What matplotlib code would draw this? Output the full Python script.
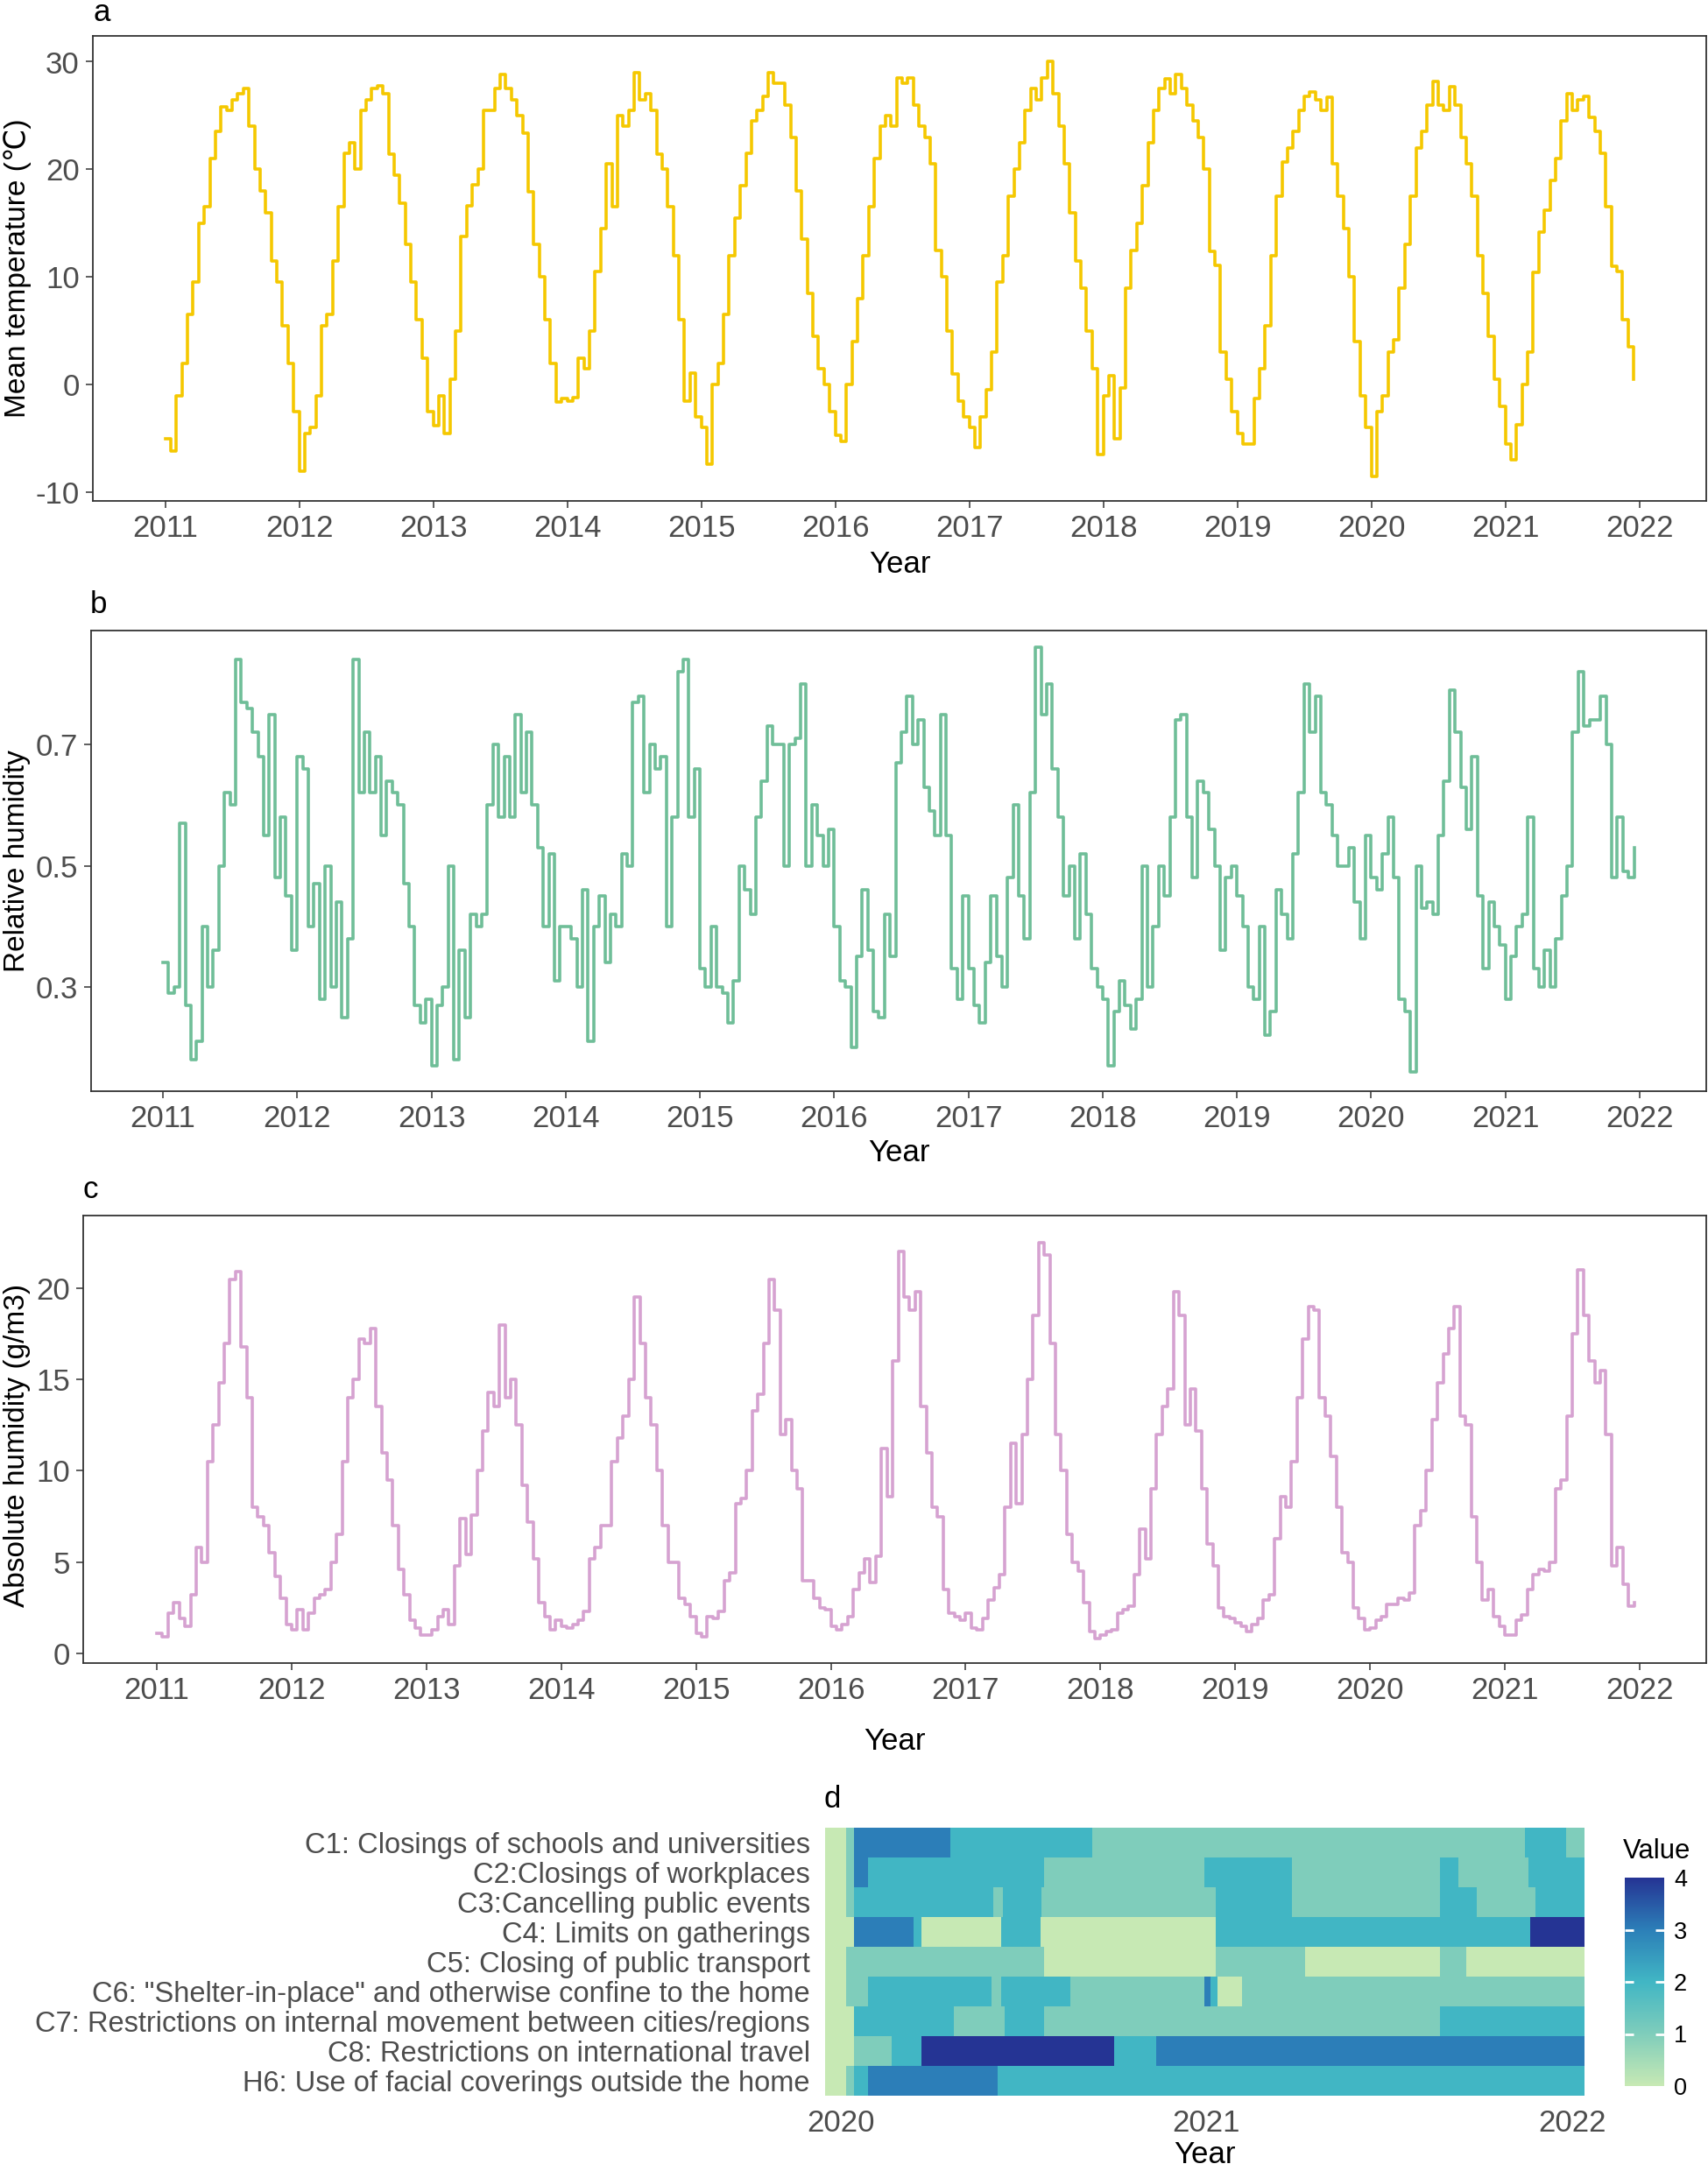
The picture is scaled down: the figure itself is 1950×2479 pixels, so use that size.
import numpy as np
import matplotlib
matplotlib.use("Agg")
import matplotlib.pyplot as plt
from matplotlib import font_manager
from matplotlib.cm import ScalarMappable
from matplotlib.colors import LinearSegmentedColormap, Normalize

# ---------------- data (semi-monthly readings, 2011-2021) ----------------
mean_temp = [
    -5.0, -6.2, -1.0, 2.0, 6.5, 9.5, 15.0, 16.5, 21.0, 23.5, 25.8, 25.5, 26.5, 27.0, 27.5, 24.0, 20.0, 18.0, 16.0, 11.5, 9.5, 5.5, 2.0, -2.5,
    -8.0, -4.5, -4.0, -1.0, 5.5, 6.5, 11.5, 16.5, 21.5, 22.5, 20.0, 25.5, 26.5, 27.5, 27.8, 27.0, 21.4, 19.5, 16.9, 13.0, 9.5, 6.0, 2.5, -2.5,
    -3.8, -1.0, -4.5, 0.5, 5.0, 13.8, 16.6, 18.6, 20.0, 25.5, 25.5, 27.5, 28.8, 27.5, 26.5, 25.0, 23.4, 17.9, 13.0, 10.0, 6.0, 2.0, -1.6, -1.3,
    -1.5, -1.2, 2.5, 1.5, 5.0, 10.5, 14.5, 20.5, 16.5, 25.0, 24.0, 25.5, 29.0, 26.5, 27.0, 25.5, 21.4, 20.0, 16.5, 12.0, 6.0, -1.5, 1.1, -3.0,
    -4.0, -7.4, 0.0, 2.0, 6.5, 12.0, 15.5, 18.5, 21.5, 24.5, 25.5, 26.8, 29.0, 28.0, 28.0, 26.0, 23.0, 18.0, 13.5, 8.5, 4.5, 1.5, 0.0, -2.5,
    -4.7, -5.3, 0.0, 4.0, 8.0, 12.0, 16.5, 21.0, 24.0, 25.0, 24.0, 28.5, 28.0, 28.5, 26.0, 24.0, 23.0, 20.5, 12.5, 10.0, 5.0, 1.0, -1.5, -3.0,
    -4.0, -5.8, -3.0, -0.5, 3.0, 9.5, 12.0, 17.5, 20.0, 22.5, 25.5, 27.5, 26.5, 28.5, 30.0, 27.0, 24.0, 20.5, 16.0, 11.5, 9.0, 5.0, 1.5, -6.5,
    -1.0, 0.8, -5.0, -0.3, 9.0, 12.5, 15.0, 18.5, 22.5, 25.5, 27.5, 28.4, 27.0, 28.8, 27.5, 26.0, 24.5, 23.0, 20.0, 12.4, 11.1, 3.0, 0.5, -2.5,
    -4.5, -5.5, -5.5, -1.3, 1.5, 5.5, 12.0, 17.5, 20.7, 22.0, 23.5, 25.5, 26.8, 27.2, 26.5, 25.5, 26.7, 20.5, 17.5, 14.5, 10.0, 4.0, -1.0, -4.0,
    -8.5, -2.5, -1.0, 3.0, 4.2, 9.0, 13.0, 17.5, 22.0, 23.5, 26.0, 28.2, 26.0, 25.5, 27.7, 26.0, 23.0, 20.5, 17.5, 12.0, 8.5, 4.5, 0.5, -2.0,
    -5.5, -7.0, -3.7, 0.0, 3.0, 10.4, 14.2, 16.2, 19.0, 21.0, 24.5, 27.0, 25.5, 26.5, 26.8, 24.8, 23.5, 21.5, 16.5, 11.0, 10.5, 6.0, 3.5, 0.5,
]

rel_humidity = [
    0.34, 0.29, 0.30, 0.57, 0.27, 0.18, 0.21, 0.40, 0.30, 0.36, 0.50, 0.62, 0.60, 0.84, 0.77, 0.76, 0.72, 0.68, 0.55, 0.75, 0.48, 0.58, 0.45, 0.36,
    0.68, 0.66, 0.40, 0.47, 0.28, 0.50, 0.30, 0.44, 0.25, 0.38, 0.84, 0.62, 0.72, 0.62, 0.68, 0.55, 0.64, 0.62, 0.60, 0.47, 0.40, 0.27, 0.24, 0.28,
    0.17, 0.27, 0.30, 0.50, 0.18, 0.36, 0.25, 0.42, 0.40, 0.42, 0.60, 0.70, 0.58, 0.68, 0.58, 0.75, 0.62, 0.72, 0.60, 0.53, 0.40, 0.52, 0.31, 0.40,
    0.40, 0.38, 0.30, 0.46, 0.21, 0.40, 0.45, 0.34, 0.42, 0.40, 0.52, 0.50, 0.77, 0.78, 0.62, 0.70, 0.66, 0.68, 0.40, 0.58, 0.82, 0.84, 0.58, 0.66,
    0.33, 0.30, 0.40, 0.30, 0.29, 0.24, 0.31, 0.50, 0.46, 0.42, 0.58, 0.64, 0.73, 0.70, 0.70, 0.50, 0.70, 0.71, 0.80, 0.50, 0.60, 0.55, 0.50, 0.56,
    0.40, 0.31, 0.30, 0.20, 0.35, 0.46, 0.36, 0.26, 0.25, 0.42, 0.35, 0.67, 0.72, 0.78, 0.70, 0.74, 0.63, 0.59, 0.55, 0.75, 0.55, 0.33, 0.28, 0.45,
    0.33, 0.27, 0.24, 0.34, 0.45, 0.35, 0.30, 0.48, 0.60, 0.45, 0.38, 0.62, 0.86, 0.75, 0.80, 0.66, 0.58, 0.45, 0.50, 0.38, 0.52, 0.42, 0.33, 0.30,
    0.28, 0.17, 0.26, 0.31, 0.27, 0.23, 0.28, 0.50, 0.30, 0.40, 0.50, 0.45, 0.58, 0.74, 0.75, 0.58, 0.48, 0.64, 0.62, 0.56, 0.50, 0.36, 0.48, 0.50,
    0.45, 0.40, 0.30, 0.28, 0.40, 0.22, 0.26, 0.46, 0.42, 0.38, 0.52, 0.62, 0.80, 0.72, 0.78, 0.62, 0.60, 0.55, 0.50, 0.50, 0.53, 0.44, 0.38, 0.55,
    0.48, 0.46, 0.52, 0.58, 0.48, 0.28, 0.26, 0.16, 0.50, 0.43, 0.44, 0.42, 0.55, 0.64, 0.79, 0.72, 0.63, 0.56, 0.68, 0.45, 0.33, 0.44, 0.40, 0.37,
    0.28, 0.35, 0.40, 0.42, 0.58, 0.33, 0.30, 0.36, 0.30, 0.38, 0.45, 0.50, 0.72, 0.82, 0.73, 0.74, 0.74, 0.78, 0.70, 0.48, 0.58, 0.49, 0.48, 0.53,
]

abs_humidity = [
    1.1, 0.9, 2.2, 2.8, 1.9, 1.5, 3.2, 5.8, 5.0, 10.5, 12.5, 14.8, 17.0, 20.5, 20.9, 16.8, 14.0, 8.0, 7.5, 7.0, 5.5, 4.2, 3.0, 1.6,
    1.3, 2.4, 1.3, 2.2, 3.0, 3.2, 3.5, 5.0, 6.5, 10.5, 14.0, 15.0, 17.2, 17.0, 17.8, 13.5, 11.0, 9.5, 7.0, 4.6, 3.2, 1.8, 1.4, 1.0,
    1.0, 1.3, 2.0, 2.4, 1.6, 4.8, 7.4, 5.4, 7.6, 10.0, 12.2, 14.3, 13.5, 18.0, 14.0, 15.0, 12.5, 9.2, 7.2, 5.2, 2.8, 2.0, 1.3, 1.8,
    1.5, 1.4, 1.6, 1.8, 2.3, 5.2, 5.8, 7.0, 7.0, 10.5, 11.8, 13.0, 15.0, 19.5, 17.0, 14.0, 12.5, 10.0, 7.0, 5.0, 5.0, 3.0, 2.7, 2.0,
    1.1, 0.9, 2.0, 1.9, 2.3, 4.0, 4.4, 8.2, 8.5, 10.0, 13.3, 14.2, 17.0, 20.5, 18.8, 12.0, 12.8, 10.0, 9.0, 4.0, 4.0, 3.0, 2.5, 2.4,
    1.5, 1.3, 1.6, 2.0, 3.5, 4.4, 5.2, 3.9, 5.3, 11.2, 8.6, 16.0, 22.0, 19.5, 18.8, 19.8, 13.5, 11.0, 8.0, 7.5, 3.5, 2.2, 2.0, 1.8,
    2.2, 1.4, 1.3, 1.9, 2.9, 3.6, 4.3, 8.0, 11.5, 8.2, 12.0, 15.0, 18.5, 22.5, 21.8, 17.0, 12.0, 10.0, 6.5, 5.0, 4.5, 2.8, 1.2, 0.8,
    1.0, 1.2, 1.3, 2.2, 2.4, 2.6, 4.3, 6.8, 5.2, 9.0, 12.0, 13.5, 14.5, 19.8, 18.5, 12.5, 14.5, 12.2, 9.0, 6.0, 4.8, 2.5, 2.0, 1.9,
    1.7, 1.5, 1.2, 1.6, 1.9, 2.9, 3.2, 6.3, 8.6, 8.0, 10.5, 14.0, 17.2, 19.0, 18.8, 14.0, 13.0, 10.8, 8.0, 5.5, 5.0, 2.5, 1.9, 1.3,
    1.4, 1.8, 2.0, 2.7, 2.7, 3.0, 2.9, 3.3, 7.0, 7.8, 10.0, 12.8, 14.8, 16.4, 17.8, 19.0, 13.0, 12.5, 7.5, 5.0, 2.9, 3.5, 2.0, 1.5,
    1.0, 1.0, 1.8, 2.1, 3.5, 4.3, 4.6, 4.5, 5.0, 9.0, 9.5, 13.0, 17.5, 21.0, 18.5, 16.0, 14.8, 15.5, 12.0, 4.8, 5.8, 3.8, 2.6, 2.8,
]

year_ticks = list(range(2011, 2023))

# policy index rows: start of each block (year) and its level
policy_labels = [
    "C1: Closings of schools and universities",
    "C2:Closings of workplaces",
    "C3:Cancelling public events",
    "C4: Limits on gatherings",
    "C5: Closing of public transport",
    'C6: "Shelter-in-place" and otherwise confine to the home',
    "C7: Restrictions on internal movement between cities/regions",
    "C8: Restrictions on international travel",
    "H6: Use of facial coverings outside the home",
]
c1_starts = [2019.956, 2020.014, 2020.036, 2020.300, 2020.688, 2021.871, 2021.983]
c1_values = [0, 1, 3, 2, 1, 2, 1]
c2_starts = [2019.956, 2020.014, 2020.036, 2020.074, 2020.556, 2020.995, 2021.235, 2021.638, 2021.688, 2021.880]
c2_values = [0, 1, 3, 2, 1, 2, 1, 2, 1, 2]
c3_starts = [2019.956, 2020.014, 2020.036, 2020.417, 2020.444, 2020.550, 2021.026, 2021.235, 2021.638, 2021.739, 2021.899]
c3_values = [0, 1, 2, 1, 2, 1, 2, 1, 2, 1, 2]
c4_starts = [2019.956, 2020.036, 2020.199, 2020.221, 2020.439, 2020.547, 2021.026, 2021.885]
c4_values = [0, 3, 2, 0, 2, 0, 2, 4]
c5_starts = [2019.956, 2020.014, 2020.556, 2021.026, 2021.271, 2021.638, 2021.710]
c5_values = [0, 1, 0, 1, 0, 1, 0]
c6_starts = [2019.956, 2020.014, 2020.074, 2020.412, 2020.439, 2020.628, 2020.995, 2021.012, 2021.031, 2021.098]
c6_values = [0, 1, 2, 1, 2, 1, 3, 2, 0, 1]
c7_starts = [2019.956, 2020.036, 2020.309, 2020.448, 2020.556, 2021.638]
c7_values = [0, 2, 1, 2, 1, 2]
c8_starts = [2019.956, 2020.036, 2020.139, 2020.221, 2020.748, 2020.863]
c8_values = [0, 1, 2, 4, 2, 3]
h6_starts = [2019.956, 2020.014, 2020.036, 2020.074, 2020.429]
h6_values = [0, 1, 2, 3, 2]
policy_end = 2022.034

# ---------------- figure ----------------
W, H = 1950, 2479
installed = {f.name for f in font_manager.fontManager.ttflist}
if "Liberation Sans Narrow" in installed:
    narrow = ["Liberation Sans Narrow", "DejaVu Sans"]
    shrink = 1.09
else:
    narrow = ["Liberation Sans", "DejaVu Sans"]
    shrink = 0.93
regular = ["Liberation Sans", "DejaVu Sans"]
plt.rcParams["font.family"] = narrow
plt.rcParams["axes.unicode_minus"] = False

TICK = "#4d4d4d"
FRAME = "#333333"


def box(l, t, r, b):
    return [l / W, 1 - b / H, (r - l) / W, (b - t) / H]


def at(x, y):
    return x / W, 1 - y / H


fig = plt.figure(figsize=(W / 100, H / 100), dpi=100)
dates = 2011 + np.arange(len(mean_temp)) / 24


def series_panel(rect, values, color, xlim, ylim, yticks, yfmt):
    ax = fig.add_axes(rect)
    ax.step(dates, values, where="post", color=color, lw=2.6)
    ax.set_xlim(*xlim)
    ax.set_ylim(*ylim)
    ax.set_xticks(year_ticks)
    ax.set_yticks(yticks)
    ax.set_yticklabels([yfmt.format(v) for v in yticks])
    for s in ax.spines.values():
        s.set_color(FRAME)
        s.set_linewidth(1.3)
    ax.tick_params(direction="out", length=6, width=1.1, color=FRAME,
                   labelsize=27 * shrink, labelcolor=TICK, pad=5)
    return ax


series_panel(box(106, 41, 1948, 572), mean_temp, "#F5C800",
             (2010.46, 2022.50), (-10.8, 32.4), [-10, 0, 10, 20, 30], "{:d}")
series_panel(box(104, 720, 1948, 1246), rel_humidity, "#6FBE98",
             (2010.465, 2022.496), (0.128, 0.888), [0.3, 0.5, 0.7], "{:.1f}")
series_panel(box(95, 1388, 1948, 1899), abs_humidity, "#D6A2D1",
             (2010.454, 2022.494), (-0.53, 23.98), [0, 5, 10, 15, 20], "{:d}")

# axis titles and panel letters
for x, y, s in [(1027, 644, "Year"), (1026, 1317, "Year"), (1021, 1988, "Year"), (1375, 2460, "Year")]:
    fig.text(*at(x, y), s, ha="center", va="center", fontsize=27 * shrink, color="black")
for y, s in [(306, "Mean temperature (℃)"), (983, "Relative humidity"), (1650, "Absolute humidity (g/m3)")]:
    fig.text(*at(20, y), s, rotation=90, ha="center", va="center", fontsize=24,
             family=regular, color="black")
for x, y, s in [(106, 14, "a"), (103, 690, "b"), (95, 1358, "c"), (941, 2054, "d")]:
    fig.text(*at(x, y), s, ha="left", va="center", fontsize=27 * shrink, color="black")

# heatmap of policy levels
cmap = LinearSegmentedColormap.from_list(
    "ylgnbu", ["#c7e9b4", "#7fcdbb", "#41b6c4", "#2c7fb8", "#253494"])
norm = Normalize(0, 4)
policy_rows = [(c1_starts, c1_values), (c2_starts, c2_values), (c3_starts, c3_values),
               (c4_starts, c4_values), (c5_starts, c5_values), (c6_starts, c6_values),
               (c7_starts, c7_values), (c8_starts, c8_values), (h6_starts, h6_values)]

axd = fig.add_axes(box(941.5, 2087, 1809, 2393))
for i, (starts, vals) in enumerate(policy_rows):
    edges = np.array(starts + [policy_end])
    axd.pcolormesh(edges, [i, i + 1], np.array([vals]), cmap=cmap, norm=norm,
                   shading="flat", edgecolors="face", linewidth=0.4)
axd.set_xlim(starts[0], policy_end)
axd.set_ylim(len(policy_rows), 0)
axd.set_yticks(np.arange(len(policy_labels)) + 0.5)
axd.set_yticklabels(policy_labels)
axd.set_xticks([2020, 2021, 2022])
for s in axd.spines.values():
    s.set_visible(False)
axd.tick_params(length=0, labelsize=25.3 * shrink, labelcolor=TICK)
axd.tick_params(axis="x", labelsize=27 * shrink)
axd.tick_params(axis="y", pad=12)
axd.tick_params(axis="x", pad=11)

cax = fig.add_axes(box(1855, 2144, 1900, 2382))
cb = fig.colorbar(ScalarMappable(norm=norm, cmap=cmap), cax=cax)
cb.outline.set_visible(False)
cb.set_ticks([0, 1, 2, 3, 4])
cax.tick_params(length=0, labelsize=21 * shrink, labelcolor="black", pad=8)
cax.hlines([1, 2, 3], 0, 0.22, colors="white", lw=2)
cax.hlines([1, 2, 3], 0.78, 1, colors="white", lw=2)
fig.text(*at(1853, 2114), "Value", ha="left", va="center", fontsize=24 * shrink, color="black")

fig.savefig("out.png", dpi=100, facecolor="white")
